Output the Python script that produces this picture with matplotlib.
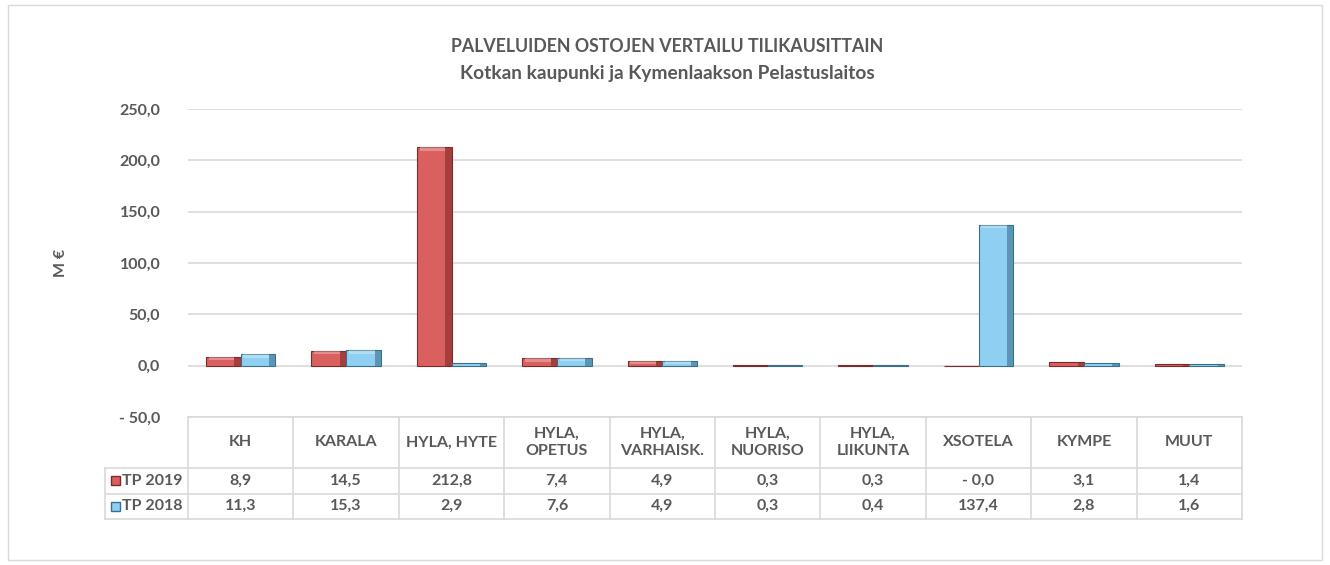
import numpy as np
import matplotlib
matplotlib.use("Agg")
from matplotlib import pyplot as plt
from matplotlib.patches import Rectangle
from matplotlib.transforms import blended_transform_factory

plt.rcParams['font.family'] = ['Lato', 'DejaVu Sans']

categories = ["KH", "KARALA", "HYLA, HYTE", "HYLA,\nOPETUS", "HYLA,\nVARHAISK.",
              "HYLA,\nNUORISO", "HYLA,\nLIIKUNTA", "XSOTELA", "KYMPE", "MUUT"]
tp2019 = [8.9, 14.5, 212.8, 7.4, 4.9, 0.3, 0.3, -0.01, 3.1, 1.4]
tp2018 = [11.3, 15.3, 2.9, 7.6, 4.9, 0.3, 0.4, 137.4, 2.8, 1.6]
series_names = ["TP 2019", "TP 2018"]
yticks = [-50, 0, 50, 100, 150, 200, 250]

txt = "#595959"
grid = "#d9d9d9"
red_face, red_edge = "#d9605e", "#7f2a28"
blue_face, blue_edge = "#8fd0f2", "#3c6f8c"
fs = 11.5


def fmt(v):
    s = f"{abs(v):.1f}".replace(".", ",")
    return "- " + s if v < 0 else s


fig = plt.figure(figsize=(13.3, 5.65), dpi=100)
fig.patches.append(Rectangle((8 / 1330, 5 / 565), 1314 / 1330, 555 / 565,
                             transform=fig.transFigure, fill=False,
                             edgecolor=grid, lw=1))
ax = fig.add_axes([188 / 1330, 1 - 417 / 565, 1054 / 1330, 308 / 565])

x = np.arange(len(categories))
w = 0.33


def bevel_bars(xs, vals, face, edge):
    ax.bar(xs, vals, w, color=face, edgecolor=edge, lw=0.8, zorder=3)
    # darker right side and lighter top to mimic Excel bevel
    ax.bar(xs + w * 0.41, vals, w * 0.18, color=edge, alpha=0.6, lw=0, zorder=4)
    tops = [3.5 if v > 3.5 else 0 for v in vals]
    ax.bar(xs - w * 0.05, tops, w * 0.74, bottom=[v - t for v, t in zip(vals, tops)],
           color="white", alpha=0.3, lw=0, zorder=4)


bevel_bars(x - w / 2, tp2019, red_face, red_edge)
bevel_bars(x + w / 2, tp2018, blue_face, blue_edge)

ax.set_xlim(-0.5, len(categories) - 0.5)
ax.set_ylim(-50, 250)
ax.set_yticks(yticks)
ax.set_yticklabels([fmt(v) for v in yticks], fontsize=fs, fontweight="bold", color=txt)
ax.tick_params(axis="y", length=0, pad=20)
ax.set_xticks([])
for s in ax.spines.values():
    s.set_visible(False)
ax.yaxis.grid(True, color=grid, lw=1.2, zorder=0)
ax.set_axisbelow(True)
ax.set_ylabel("M €", fontsize=fs, fontweight="bold", color=txt)
ax.yaxis.set_label_coords((68 - 188) / 1054, 0.5)

# data table under the axes: x in data units, y in axes units
tr = blended_transform_factory(ax.transData, ax.transAxes)
ah = 308.0
y_head = -51 / ah
y_rows = [-51 / ah, -76.5 / ah, -102 / ah]
left_lab = -0.5 - 83 / 105.4
right = len(categories) - 0.5
lk = dict(color=grid, lw=1.2, transform=tr, clip_on=False)

ax.plot([-0.5, right], [0, 0], **lk)
for yy in y_rows:
    ax.plot([left_lab if yy < y_head else -0.5, right], [yy, yy], **lk)
ax.plot([left_lab, -0.5], [y_head, y_head], **lk)
for i in range(len(categories) + 1):
    ax.plot([i - 0.5, i - 0.5], [0, y_rows[-1]], **lk)
ax.plot([left_lab, left_lab], [y_head, y_rows[-1]], **lk)

for i, c in enumerate(categories):
    ax.text(i, y_head / 2, c, transform=tr, ha="center", va="center",
            fontsize=fs, fontweight="bold", color=txt, linespacing=1.25)
    for r, vals in enumerate([tp2019, tp2018]):
        ym = (y_rows[r] + y_rows[r + 1]) / 2
        ax.text(i, ym, fmt(vals[i]), transform=tr,
                ha="center", va="center", fontsize=fs, fontweight="bold", color=txt)

for r, (name, face, edge) in enumerate([(series_names[0], red_face, red_edge),
                                         (series_names[1], blue_face, blue_edge)]):
    ym = (y_rows[r] + y_rows[r + 1]) / 2
    ax.text(left_lab + 0.16, ym, name, transform=tr, ha="left", va="center",
            fontsize=fs, fontweight="bold", color=txt)
    ax.add_patch(Rectangle((left_lab + 0.055, ym - 4.5 / ah), 0.085, 9 / ah,
                           transform=tr, facecolor=face, edgecolor=edge,
                           lw=1, clip_on=False))

fig.text(0.5015, 1 - 47 / 565, "PALVELUIDEN OSTOJEN VERTAILU TILIKAUSITTAIN",
         ha="center", va="center", fontsize=12.8, fontweight="bold", color=txt)
fig.text(0.5015, 1 - 73 / 565, "Kotkan kaupunki ja Kymenlaakson Pelastuslaitos",
         ha="center", va="center", fontsize=13.8, fontweight="bold", color=txt)

fig.savefig("out.png", dpi=100)
